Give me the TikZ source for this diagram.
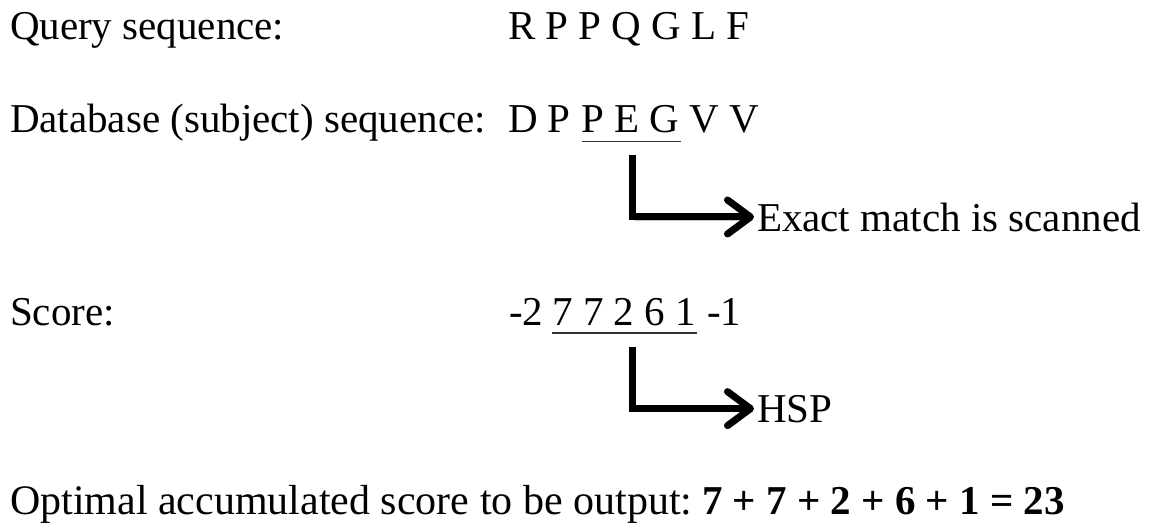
\documentclass[tikz,border=0pt]{standalone}
\usepackage{fontspec}
\setmainfont{Liberation Serif}
\usetikzlibrary{arrows.meta,calc}
\begin{document}
\begin{tikzpicture}[x=1pt,y=-1pt,
  txt/.style={inner sep=0pt, outer sep=0pt, anchor=base west, font=\fontsize{41}{49}\selectfont},
  uline/.style={draw=black!80, line width=1.5pt},
  arr/.style={line width=7pt, line join=miter, -{Straight Barb[round,length=23pt,width=34pt]}, shorten >=3pt,
    preaction={draw=black!22, transform canvas={shift={(1.5pt,-3pt)}}}}
]
\useasboundingbox (0,0) rectangle (1149,524);

% labels
\node[txt] (qlab) at (10,40) {Query sequence:};
\node[txt] (dlab) at (10,133) {Database (subject) sequence:};
\node[txt] (slab) at (10,325) {Score:};
\node[txt, font=\fontsize{42}{50}\selectfont] (olab) at (10,514) {Optimal accumulated score to be output:};

% query sequence
\node[txt] (qseq) at (508,40) {R P P Q G L F};

% database sequence
\node[txt] (dbA) at (508,133) {D P};
\node[txt] (dbB) at (581,133) {P E G};
\node[txt] (dbC) at (689.3,133) {V V};
\draw[uline] ($(dbB.south west)+(1,8)$) -- ($(dbB.south east)+(2,8)$);

% scores
\node[txt] (scA) at (509,325) {-2};
\node[txt] (scB) at (552.4,325) {7 7 2 6 1};
\node[txt] (scC) at (707,325) {-1};
\draw[uline] ($(scB.south west)+(0,7.5)$) -- ($(scB.south east)+(1,7.5)$);

% targets
\node[txt] (exact) at (757,231) {Exact match is scanned};
\node[txt] (hsp) at (757,422) {HSP};

% arrows
\coordinate (a1) at ($(dbB.south)+(3,22)$);
\coordinate (a2) at ($(scB.south)+(8,22)$);
\draw[arr] (a1) |- (exact.west);
\draw[arr] (a2) |- (hsp.west);

% result
\node[txt, font=\fontsize{41}{49}\selectfont\bfseries] (res) at (702,514) {7 + 7 + 2 + 6 + 1 = 23};
\end{tikzpicture}
\end{document}
